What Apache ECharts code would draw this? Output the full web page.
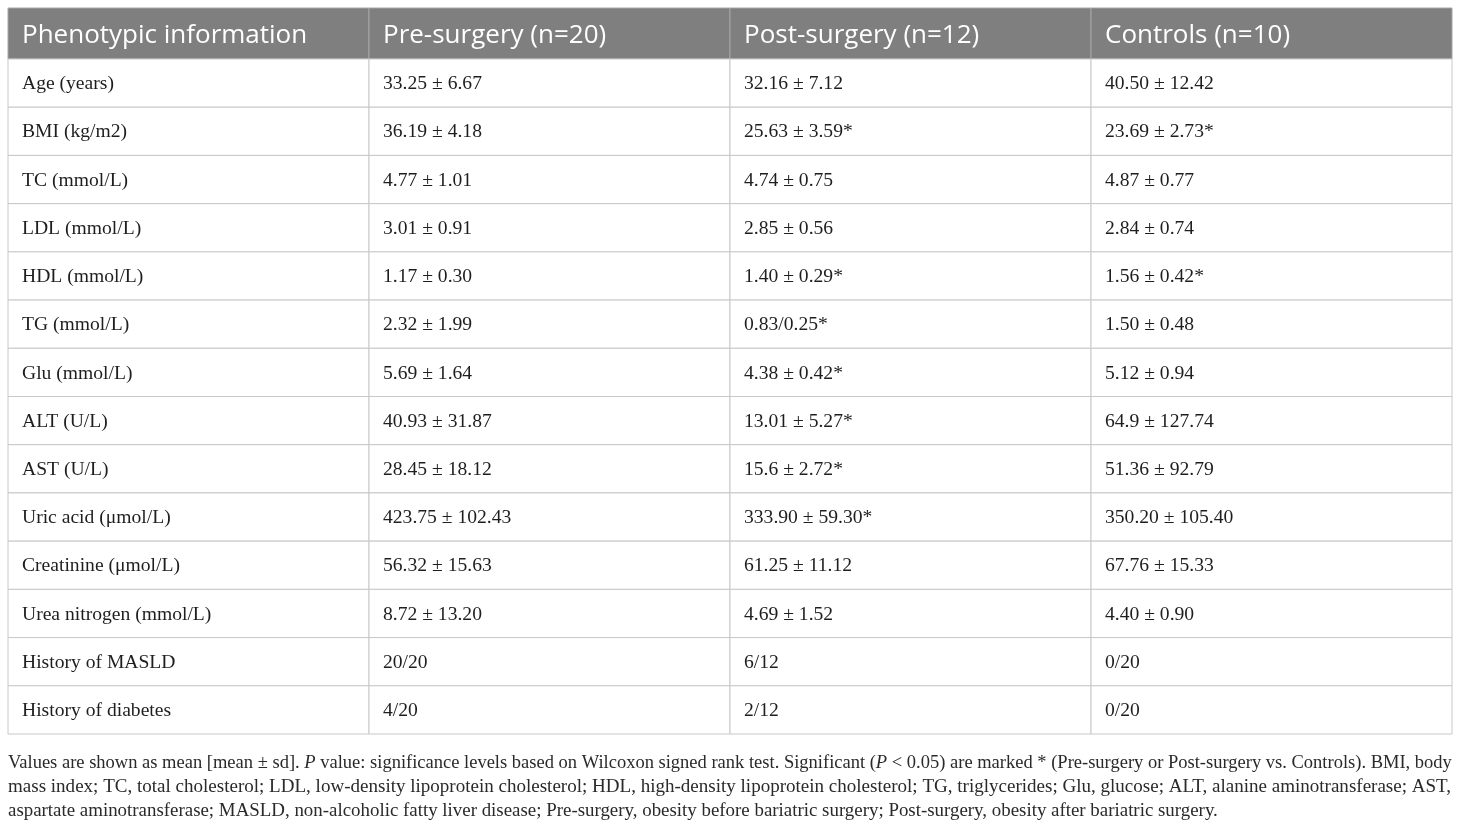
<!DOCTYPE html>
<html>
<head>
<meta charset="utf-8">
<script src="https://cdn.jsdelivr.net/npm/echarts@6/dist/echarts.min.js"></script>
<style>
html,body{margin:0;padding:0;background:#fff;}
#main{width:1460px;height:822px;}
</style>
</head>
<body>
<div id="main"></div>
<script>
const headers = ['Phenotypic information', 'Pre-surgery (n=20)', 'Post-surgery (n=12)', 'Controls (n=10)'];
const rowLabels = ['Age (years)', 'BMI (kg/m2)', 'TC (mmol/L)', 'LDL (mmol/L)', 'HDL (mmol/L)', 'TG (mmol/L)', 'Glu (mmol/L)', 'ALT (U/L)', 'AST (U/L)', 'Uric acid (\u03bcmol/L)', 'Creatinine (\u03bcmol/L)', 'Urea nitrogen (mmol/L)', 'History of MASLD', 'History of diabetes'];
const preSurgery = ['33.25 \u00b1 6.67', '36.19 \u00b1 4.18', '4.77 \u00b1 1.01', '3.01 \u00b1 0.91', '1.17 \u00b1 0.30', '2.32 \u00b1 1.99', '5.69 \u00b1 1.64', '40.93 \u00b1 31.87', '28.45 \u00b1 18.12', '423.75 \u00b1 102.43', '56.32 \u00b1 15.63', '8.72 \u00b1 13.20', '20/20', '4/20'];
const postSurgery = ['32.16 \u00b1 7.12', '25.63 \u00b1 3.59*', '4.74 \u00b1 0.75', '2.85 \u00b1 0.56', '1.40 \u00b1 0.29*', '0.83/0.25*', '4.38 \u00b1 0.42*', '13.01 \u00b1 5.27*', '15.6 \u00b1 2.72*', '333.90 \u00b1 59.30*', '61.25 \u00b1 11.12', '4.69 \u00b1 1.52', '6/12', '2/12'];
const controls = ['40.50 \u00b1 12.42', '23.69 \u00b1 2.73*', '4.87 \u00b1 0.77', '2.84 \u00b1 0.74', '1.56 \u00b1 0.42*', '1.50 \u00b1 0.48', '5.12 \u00b1 0.94', '64.9 \u00b1 127.74', '51.36 \u00b1 92.79', '350.20 \u00b1 105.40', '67.76 \u00b1 15.33', '4.40 \u00b1 0.90', '0/20', '0/20'];
const footnoteLines = [
  '{a|Values are shown as mean [mean \u00b1 sd]. }{ai|P}{a| value: significance levels based on Wilcoxon signed rank test. Significant (}{ai|P}{a| < 0.05) are marked * (Pre-surgery or Post-surgery vs. Controls). BMI, body}',
  '{c|mass index; TC, total cholesterol; LDL, low-density lipoprotein cholesterol; HDL, high-density lipoprotein cholesterol; TG, triglycerides; Glu, glucose; ALT, alanine aminotransferase; AST,}',
  '{b|aspartate aminotransferase; MASLD, non-alcoholic fatty liver disease; Pre-surgery, obesity before bariatric surgery; Post-surgery, obesity after bariatric surgery.}'
];

const columns = [rowLabels, preSurgery, postSurgery, controls];

const headerCells = headers.map((h, c) => [c, 0]);
const bodyCells = [];
const bodyText = [];
for (let r = 0; r < rowLabels.length; r++) {
  for (let c = 0; c < columns.length; c++) {
    bodyCells.push([c, r]);
    bodyText.push(columns[c][r]);
  }
}

function makeRender(texts, isHeader) {
  return function (params, api) {
    const c = api.value(0), r = api.value(1);
    const p0 = api.coord([c, r]);
    const p1 = api.coord([c + 1, r + 1]);
    return {
      type: 'group',
      children: [
        {
          type: 'rect',
          shape: { x: p0[0], y: p0[1], width: p1[0] - p0[0], height: p1[1] - p0[1] },
          style: { fill: isHeader ? '#7f7f7f' : '#ffffff', stroke: isHeader ? '#a6a6a6' : '#c8c8c8', lineWidth: 1 }
        },
        {
          type: 'text',
          x: p0[0] + 14,
          y: (p0[1] + p1[1]) / 2 + (isHeader ? 2 : 1),
          style: {
            text: texts[params.dataIndex],
            fill: isHeader ? '#ffffff' : '#1e1e1e',
            fontSize: isHeader ? 26 : 19.6,
            fontFamily: isHeader ? 'Open Sans' : 'Liberation Serif',
            align: 'left',
            verticalAlign: 'middle'
          }
        }
      ]
    };
  };
}

const fnColor = '#2a2a2a';
const chart = echarts.init(document.getElementById('main'), null, { renderer: 'canvas' });
chart.setOption({
  animation: false,
  backgroundColor: '#ffffff',
  title: {
    text: footnoteLines.join('\n'),
    left: 3,
    top: 746,
    textStyle: {
      fontFamily: 'Liberation Serif',
      fontSize: 18.5,
      fontWeight: 'normal',
      color: fnColor,
      lineHeight: 24,
      rich: {
        a: { fontFamily: 'Liberation Serif', fontSize: 18.5, color: fnColor, lineHeight: 24 },
        ai: { fontFamily: 'Liberation Serif', fontSize: 18.5, fontStyle: 'italic', color: fnColor, lineHeight: 24 },
        c: { fontFamily: 'Liberation Serif', fontSize: 19.05, color: fnColor, lineHeight: 24 },
        b: { fontFamily: 'Liberation Serif', fontSize: 18.9, color: fnColor, lineHeight: 24 }
      }
    }
  },
  grid: [
    { left: 8, right: 8, top: 8, height: 51 },
    { left: 8, right: 8, top: 59, height: 675 }
  ],
  xAxis: [
    { type: 'value', gridIndex: 0, min: 0, max: 4, show: false },
    { type: 'value', gridIndex: 1, min: 0, max: 4, show: false }
  ],
  yAxis: [
    { type: 'value', gridIndex: 0, min: 0, max: 1, inverse: true, show: false },
    { type: 'value', gridIndex: 1, min: 0, max: rowLabels.length, inverse: true, show: false }
  ],
  series: [
    { type: 'custom', xAxisIndex: 0, yAxisIndex: 0, data: headerCells, renderItem: makeRender(headers, true), silent: true },
    { type: 'custom', xAxisIndex: 1, yAxisIndex: 1, data: bodyCells, renderItem: makeRender(bodyText, false), silent: true }
  ]
});
</script>
</body>
</html>
